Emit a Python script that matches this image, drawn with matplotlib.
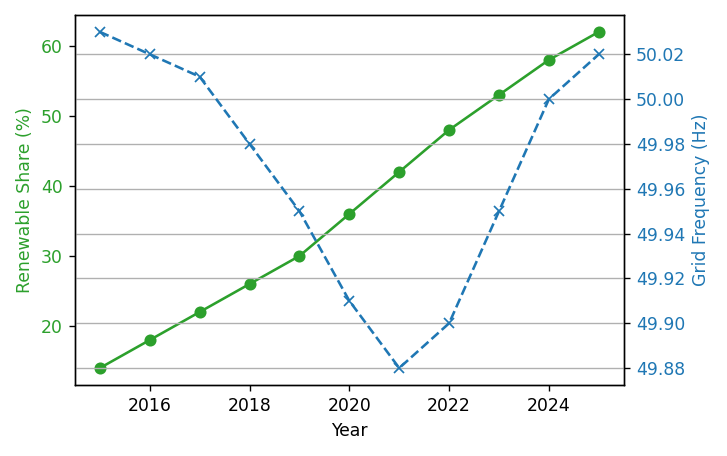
import matplotlib
matplotlib.use("Agg")
import matplotlib.pyplot as plt

years = [2015, 2016, 2017, 2018, 2019, 2020, 2021, 2022, 2023, 2024, 2025]
renewable_share = [14, 18, 22, 26, 30, 36, 42, 48, 53, 58, 62]
grid_freq = [50.03, 50.02, 50.01, 49.98, 49.95, 49.91, 49.88, 49.90, 49.95, 50.00, 50.02]

GREEN = "tab:green"
BLUE = "tab:blue"
DPI = 124

fig, ax1 = plt.subplots(figsize=(727 / DPI, 456 / DPI), dpi=DPI)
ax1.plot(years, renewable_share, color=GREEN, marker="o")
ax1.set_xlabel("Year")
ax1.set_ylabel("Renewable Share (%)", color=GREEN)
ax1.tick_params(axis="y", labelcolor=GREEN)

ax2 = ax1.twinx()
ax2.plot(years, grid_freq, color=BLUE, marker="x", linestyle="--")
ax2.set_ylabel("Grid Frequency (Hz)", color=BLUE)
ax2.tick_params(axis="y", labelcolor=BLUE)
ax2.grid(True)

fig.subplots_adjust(left=0.103, right=0.858, top=0.967, bottom=0.156)
fig.savefig("out.png", dpi=DPI)
